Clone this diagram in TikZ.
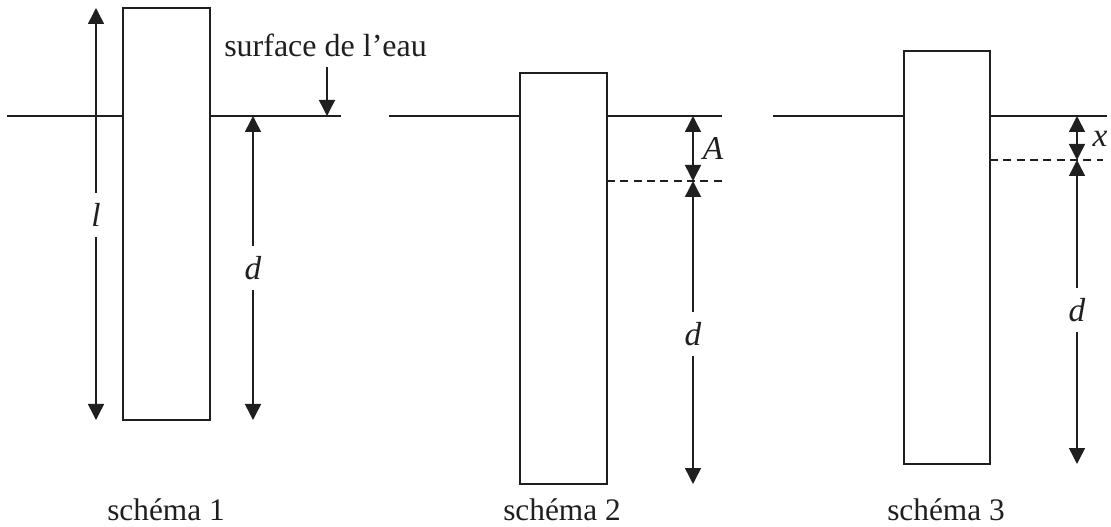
\documentclass[tikz,border=0pt]{standalone}
\usepackage{fontspec}
\setmainfont{Liberation Serif}
\usetikzlibrary{arrows.meta}
\definecolor{ink}{gray}{0.12}
\tikzset{
 x=0.75pt,y=-0.75pt,
 every path/.style={color=ink},
 every node/.style={text=ink},
 body/.style={draw=ink,line width=1.1pt,fill=white,inner sep=0pt},
 ln/.style={line width=1.1pt},
 dashln/.style={line width=1.0pt,dash pattern=on 6pt off 4pt},
 dim/.style={line width=1.1pt,{Triangle[length=12pt,width=12pt]}-{Triangle[length=12pt,width=12pt]}},
 one/.style={line width=1.1pt,-{Triangle[length=12pt,width=12pt]}},
 lab/.style={font=\fontsize{25pt}{28pt}\selectfont\itshape,fill=white,inner xsep=1pt,inner ysep=8pt},
 plainlab/.style={font=\fontsize{25pt}{28pt}\selectfont\itshape,inner sep=0pt},
 captxt/.style={font=\fontsize{23.5pt}{28pt}\selectfont,inner sep=0pt},
}
\begin{document}
\begin{tikzpicture}
\useasboundingbox (0,0) rectangle (1111,527);
% schema 1
\coordinate (w1a) at (7,116); \coordinate (w1b) at (341,116);
\draw[ln] (w1a) -- (w1b);
\coordinate (l1t) at (96,8); \coordinate (l1b) at (96,420);
\draw[dim] (l1t) -- (l1b);
\draw[body] (123,8) rectangle (210,420);
\node[lab] at (96,215) {l};
\coordinate (d1t) at (253,116); \coordinate (d1b) at (253,420);
\draw[dim] (d1t) -- (d1b);
\node[lab] at (253,268) {d};
\node[captxt,font=\fontsize{24pt}{28pt}\selectfont,anchor=base west] at (224,57) {surface de l’eau};
\coordinate (s1) at (327,67); \coordinate (s2) at (327,116);
\draw[one] (s1) -- (s2);
% schema 2
\coordinate (w2a) at (389,116); \coordinate (w2b) at (722,116);
\draw[ln] (w2a) -- (w2b);
\draw[body] (520,73) rectangle (607,484);
\coordinate (da) at (607,181); \coordinate (db) at (725,181);
\draw[dashln] (da) -- (db);
\coordinate (a2t) at (693,116); \coordinate (a2m) at (693,181); \coordinate (a2b) at (693,484);
\draw[dim] (a2t) -- (a2m);
\draw[dim] (a2m) -- (a2b);
\node[plainlab] at (713,148) {A};
\node[lab] at (693,334) {d};
% schema 3
\coordinate (w3a) at (773,116); \coordinate (w3b) at (1107,116);
\draw[ln] (w3a) -- (w3b);
\draw[body] (904,51) rectangle (990,464);
\coordinate (eb) at (990,160); \coordinate (ec) at (1103,160);
\draw[dashln] (eb) -- (ec);
\coordinate (x3t) at (1077,116); \coordinate (x3m) at (1077,160); \coordinate (x3b) at (1077,464);
\draw[dim] (x3t) -- (x3m);
\draw[dim] (x3m) -- (x3b);
\node[plainlab] at (1100,139) {x};
\node[lab] at (1077,310) {d};
% captions
\node[captxt,anchor=base] at (166,520) {schéma 1};
\node[captxt,anchor=base] at (562,520) {schéma 2};
\node[captxt,anchor=base] at (946,520) {schéma 3};
\end{tikzpicture}
\end{document}
